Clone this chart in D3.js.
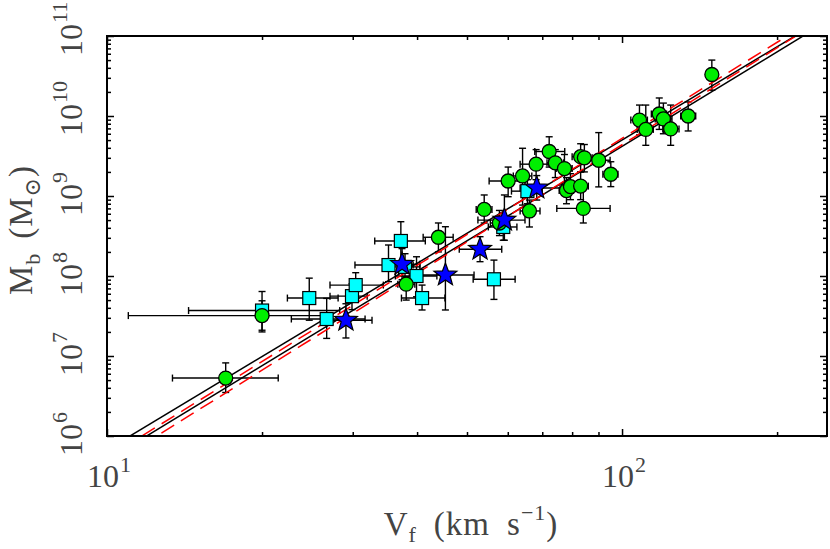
<!DOCTYPE html>
<html><head><meta charset="utf-8">
<script src="https://cdn.jsdelivr.net/npm/d3@7"></script>
<style>body{margin:0;background:#fff}svg{display:block}</style>
</head><body>
<svg id="c" width="830" height="549"></svg>
<script>
// ---- data ----
// green circles
const greenV   = [17.0,20.0,38.1,44.0,54.0,57.8,60.1,64.1,66.1,68.1,72.2,74.2,77.3,78.0,79.4,83.1,84.5,83.1,84.1,90.1,95.1,108.1,111.2,118.1,120.3,124.3,134.4,149.4];
const greenM   = [5.3e6,3.2e7,7.9e7,3.05e8,6.8e8,4.6e8,1.54e9,1.78e9,6.5e8,2.5e9,3.6e9,2.6e9,2.2e9,1.17e9,1.31e9,3.1e9,3.0e9,1.33e9,7.0e8,2.8e9,1.87e9,8.9e9,6.8e9,1.06e10,9.2e9,6.9e9,1.0e10,3.3e10];
const greenVlo = [13.4,11.0,36.7,41.1,52.1,55.5,55.2,61.5,63.4,63.4,67.7,71.5,74.5,75.5,76.5,80.0,81.5,80.0,74.7,84.7,91.8,104,107,114,116,120,130,146];
const greenVhi = [21.5,27.0,39.6,47.0,55.9,60.2,64.8,66.8,69.3,72.4,77.4,77.0,80.0,80.5,82.5,86.0,87.5,86.0,94.8,94.8,98.2,112,115,122,125,129,139,153];
const greenMlo = [3.5e6,2.0e7,5.0e7,2.0e8,4.6e8,3.2e8,9.8e8,7.7e8,4.1e8,1.6e9,2.3e9,1.7e9,1.4e9,8.0e8,9.0e8,2.0e9,2.0e9,9.0e8,4.6e8,1.3e9,1.31e9,5.8e9,4.3e9,6.8e9,6.0e9,4.3e9,6.5e9,2.1e10];
const greenMhi = [8.2e6,4.9e7,9.8e7,4.6e8,1.03e9,6.6e8,2.3e9,3.95e9,8.9e8,3.8e9,5.5e9,3.8e9,3.3e9,1.7e9,1.9e9,4.5e9,4.4e9,2.0e9,1.31e9,6.2e9,2.68e9,1.37e10,1.37e10,1.68e10,1.45e10,1.37e10,1.5e10,5.0e10];
// cyan squares
const cyanV   = [20.0,24.7,26.7,29.9,30.4,35.2,37.2,37.9,39.9,40.9,56.4,58.8,65.5];
const cyanM   = [3.7e7,5.3e7,2.9e7,5.6e7,7.7e7,1.37e8,2.74e8,1.3e8,1.0e8,5.3e7,9.1e7,4.1e8,1.15e9];
const cyanVlo = [14.4,22.4,22.8,27.1,27.1,30.3,33.1,35.5,36.3,37.3,51.4,55.0,61.0];
const cyanVhi = [28.3,28.1,31.7,32.0,34.4,39.3,41.5,40.5,43.7,45.3,62.0,62.5,70.0];
const cyanMlo = [2.1e7,2.8e7,1.66e7,3.8e7,5.2e7,8.5e7,1.44e8,9.0e7,5.5e7,3.76e7,5.1e7,2.8e8,8.0e8];
const cyanMhi = [6.4e7,9.4e7,5.25e7,8.0e7,1.1e8,2.44e8,4.77e8,1.9e8,1.74e8,7.7e7,1.58e8,6.0e8,1.6e9];
// blue stars
const starV   = [29.1,37.4,45.4,53.0,59.1,68.3];
const starM   = [2.8e7,1.4e8,1.03e8,2.16e8,5.0e8,1.26e9];
const starVlo = [26.0,34.5,40.5,48.3,52.5,63.4];
const starVhi = [32.7,40.5,51.6,58.4,64.8,75.8];
const starMlo = [1.68e7,9.0e7,3.76e7,1.51e8,2.8e8,8.9e8];
const starMhi = [4.5e7,2.2e8,4.13e8,3.1e8,1.03e9,1.8e9];
// fitted relations: log M = a + b log V
const fitA     = [1.955, 1.775, 1.74, 1.58];
const fitB     = [3.872, 3.923, 3.99, 4.03];
const fitStyle = ["solid","solid","dash","dash"];
// axes
const xMajor = [10, 100];
const xExp   = ["1", "2"];
const xMinor = [20,30,40,50,60,70,80,90,200];
const yMajor = [1e6,1e7,1e8,1e9,1e10,1e11];
const yExp   = ["6","7","8","9","10","11"];
const yMinor = [];
for (let e = 6; e < 11; e++) for (let k = 2; k <= 9; k++) yMinor.push(k * Math.pow(10, e));

// ---- drawing ----
const svg = d3.select("#c");
const L = 107, R = 827, T = 36, B = 436;
const x = d3.scaleLog().domain([10, 250]).range([L, R]);
const y = d3.scaleLog().domain([1e6, 1e11]).range([B, T]);

svg.append("defs").append("clipPath").attr("id","pc")
  .append("rect").attr("x",L).attr("y",T).attr("width",R-L).attr("height",B-T);

const plot = svg.append("g").attr("clip-path","url(#pc)");

function series(V,M,Vlo,Vhi,Mlo,Mhi){
  return V.map((v,i)=>({v, m:M[i], vlo:Vlo[i], vhi:Vhi[i], mlo:Mlo[i], mhi:Mhi[i]}));
}
const green = series(greenV,greenM,greenVlo,greenVhi,greenMlo,greenMhi);
const cyan  = series(cyanV,cyanM,cyanVlo,cyanVhi,cyanMlo,cyanMhi);
const stars = series(starV,starM,starVlo,starVhi,starMlo,starMhi);

const cap = 3.5;
function errbars(data){
  const g = plot.append("g").attr("stroke","#000").attr("stroke-width",1.4).attr("fill","none");
  data.forEach(d=>{
    const cx = x(d.v), cy = y(d.m);
    g.append("line").attr("x1",x(d.vlo)).attr("x2",x(d.vhi)).attr("y1",cy).attr("y2",cy);
    g.append("line").attr("x1",x(d.vlo)).attr("x2",x(d.vlo)).attr("y1",cy-cap).attr("y2",cy+cap);
    g.append("line").attr("x1",x(d.vhi)).attr("x2",x(d.vhi)).attr("y1",cy-cap).attr("y2",cy+cap);
    g.append("line").attr("x1",cx).attr("x2",cx).attr("y1",y(d.mlo)).attr("y2",y(d.mhi));
    g.append("line").attr("x1",cx-cap).attr("x2",cx+cap).attr("y1",y(d.mlo)).attr("y2",y(d.mlo));
    g.append("line").attr("x1",cx-cap).attr("x2",cx+cap).attr("y1",y(d.mhi)).attr("y2",y(d.mhi));
  });
}
errbars(cyan); errbars(green); errbars(stars);

// fit lines
const vs = [9, 260];
fitA.forEach((a,i)=>{
  const b = fitB[i];
  const pts = vs.map(v=>[x(v), y(Math.pow(10, a + b*Math.log10(v)))]);
  plot.append("path").attr("d", d3.line()(pts))
    .attr("fill","none")
    .attr("stroke", fitStyle[i]==="dash" ? "#ff0000" : "#000")
    .attr("stroke-width", 1.5)
    .attr("stroke-dasharray", fitStyle[i]==="dash" ? "15,8" : null);
});

// markers
plot.append("g").selectAll("rect").data(cyan).join("rect")
  .attr("x",d=>x(d.v)-6.5).attr("y",d=>y(d.m)-6.5).attr("width",13).attr("height",13)
  .attr("fill","#00ffff").attr("stroke","#000").attr("stroke-width",1.2);
plot.append("g").selectAll("circle").data(green).join("circle")
  .attr("cx",d=>x(d.v)).attr("cy",d=>y(d.m)).attr("r",7)
  .attr("fill","#00ee00").attr("stroke","#000").attr("stroke-width",1.3);
function starPath(ro, ri){
  const p=[];
  for(let k=0;k<10;k++){
    const r = k%2===0?ro:ri, a = -Math.PI/2 + k*Math.PI/5;
    p.push([r*Math.cos(a), r*Math.sin(a)]);
  }
  return d3.line()(p)+"Z";
}
plot.append("g").selectAll("path").data(stars).join("path")
  .attr("d", starPath(12, 5))
  .attr("transform", d=>`translate(${x(d.v)},${y(d.m)})`)
  .attr("fill","#0000ff").attr("stroke","#000").attr("stroke-width",1.2);

// ticks (inward on all sides)
function ticks(axisFn, scale, vals, len, tr){
  svg.append("g").attr("transform",tr)
    .call(axisFn(scale).tickValues(vals).tickSize(len).tickFormat(""))
    .call(g=>g.select(".domain").remove())
    .selectAll("line").attr("stroke","#000").attr("stroke-width",1.5);
}
ticks(d3.axisBottom, x, xMajor, -7, `translate(0,${B})`);
ticks(d3.axisBottom, x, xMinor, -4, `translate(0,${B})`);
ticks(d3.axisTop, x, xMajor, -7, `translate(0,${T})`);
ticks(d3.axisTop, x, xMinor, -4, `translate(0,${T})`);
ticks(d3.axisLeft, y, yMajor, -7, `translate(${L},0)`);
ticks(d3.axisLeft, y, yMinor, -4, `translate(${L},0)`);
ticks(d3.axisRight, y, yMajor, -7, `translate(${R},0)`);
ticks(d3.axisRight, y, yMinor, -4, `translate(${R},0)`);

svg.append("rect").attr("x",L).attr("y",T).attr("width",R-L).attr("height",B-T)
  .attr("fill","none").attr("stroke","#000").attr("stroke-width",2);

// tick labels
const FONT = "'Liberation Serif', 'DejaVu Serif', serif";
const TXT = "#444";
function powLabel(g, exp){
  g.attr("font-family",FONT).attr("fill",TXT).attr("font-size",32).attr("text-anchor","start");
  g.append("tspan").text("10");
  g.append("tspan").attr("font-size",22).attr("dy",-15).attr("dx",1).text(exp);
}
xMajor.forEach((v,i)=>{
  powLabel(svg.append("text").attr("x", x(v)-20).attr("y", 487), xExp[i]);
});
yMajor.forEach((v,i)=>{
  powLabel(svg.append("text").attr("transform",`translate(82,${y(v)+20}) rotate(-90)`), yExp[i]);
});

// axis titles
const xt = svg.append("text").attr("x",471).attr("y",535).attr("text-anchor","middle")
  .attr("font-family",FONT).attr("font-size",33).attr("fill",TXT).attr("letter-spacing",1);
xt.append("tspan").text("V");
xt.append("tspan").attr("font-size",22).attr("dy",7).text("f");
xt.append("tspan").attr("dy",-7).attr("dx",17).text("(km");
xt.append("tspan").attr("dx",17).text("s");
xt.append("tspan").attr("font-size",22).attr("dy",-15).text("\u22121");
xt.append("tspan").attr("dy",15).text(")");

const yt = svg.append("text").attr("transform","translate(32,230) rotate(-90)").attr("text-anchor","middle")
  .attr("font-family",FONT).attr("font-size",33).attr("fill",TXT).attr("letter-spacing",1);
yt.append("tspan").text("M");
yt.append("tspan").attr("font-size",22).attr("dy",8).text("b");
yt.append("tspan").attr("dy",-8).attr("dx",14).text("(M");
yt.append("tspan").attr("font-size",22).attr("dy",8).text("\u2299");
yt.append("tspan").attr("dy",-8).text(")");
</script>
</body></html>
